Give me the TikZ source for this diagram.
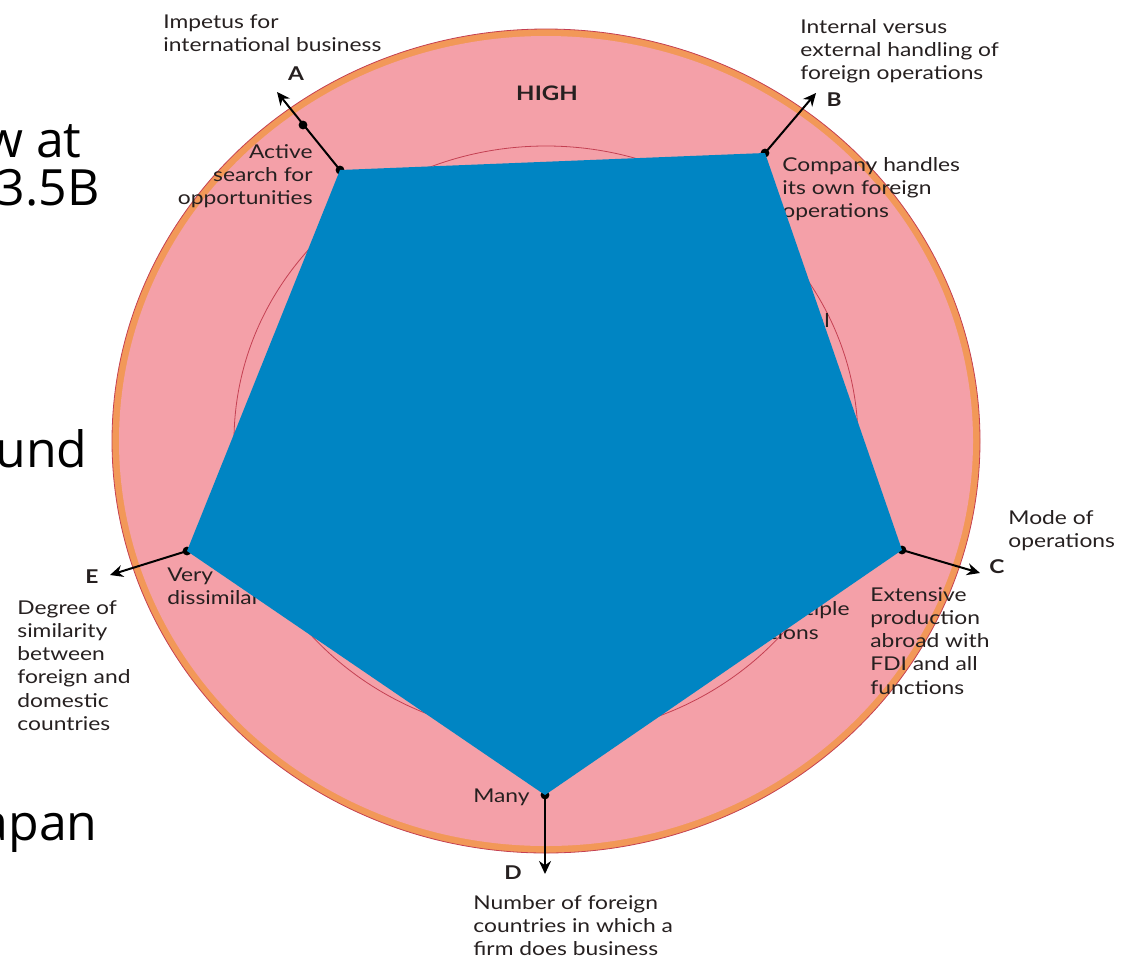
\documentclass[tikz,border=0pt]{standalone}
\usepackage{fontspec}
\setmainfont{Lato}[FakeStretch=1.2]
\newfontfamily\slidefont{Open Sans}
\usetikzlibrary{arrows.meta}

\definecolor{rimorange}{RGB}{242,152,88}
\definecolor{ringpink}{RGB}{244,160,168}
\definecolor{ringline}{RGB}{196,64,82}
\definecolor{polyblue}{RGB}{0,133,195}
\definecolor{labeltext}{RGB}{38,32,32}

\tikzset{
  lbl/.style={inner sep=0pt, align=left, text=labeltext, font=\fontsize{9.5}{11.6}\selectfont},
  rlbl/.style={lbl, align=right},
  axisname/.style={inner sep=0pt, text=labeltext, font=\bfseries\fontsize{9.5}{11}\selectfont},
  axis/.style={line width=1pt, -{Stealth[length=6.5pt,width=6pt]}},
  slide/.style={inner sep=0pt, anchor=base east, font=\slidefont\fontsize{25}{30}\selectfont}
}

\begin{document}
\begin{tikzpicture}[x=0.5pt,y=-0.5pt]
	\useasboundingbox (0,0) rectangle (1128,959);
	
	% text of the slide behind the figure
	\begin{scope}
	\clip (0,0) rectangle (1128,959);
	\node[slide] (s1) at (82,157) {w at};
	\node[slide] (s2) at (100,205) {3.5B};
	\node[slide] (s3) at (88,467) {und};
	\node[slide] (s4) at (98,840) {apan};
	\end{scope}
	
	% rings
	\coordinate (o) at (546,441);
	\fill[rimorange, draw=ringline, line width=0.4pt] (o) ellipse [x radius=217pt, y radius=206pt];
	\fill[ringpink] (o) ellipse [x radius=213.5pt, y radius=202.5pt];
	\draw[ringline, line width=0.4pt] (o) ellipse [x radius=156pt, y radius=147.5pt];
	\node[axisname, font=\bfseries\fontsize{10}{12}\selectfont] (high) at (547,93) {HIGH};
	
	% labels that the pentagon partly hides
	\node[lbl, anchor=north west] (lB) at (782,157) {Company handles\\its own foreign\\operations};
	\node[lbl, anchor=north west] (lE) at (167,567) {Very\\dissimilar};
	\node[lbl, anchor=base east] (m1) at (850,615) {multiple};
	\node[lbl, anchor=base east] (m2) at (819,639) {locations};
	\node[lbl, anchor=base east] (m3) at (830,327) {Internal};
	
	% pentagon corners, arrow ends
	\coordinate (vA) at (340,170);
	\coordinate (vB) at (765,153);
	\coordinate (vC) at (902,550);
	\coordinate (vD) at (545,795);
	\coordinate (vE) at (187,551);
	\coordinate (tA) at (277,92);
	\coordinate (tB) at (816,93);
	\coordinate (tC) at (980,573);
	\coordinate (tD) at (545,874);
	\coordinate (tE) at (110,575);
	\coordinate (dA) at (303,125);
	
	\foreach \from/\to in {vA/tA,vB/tB,vC/tC,vD/tD,vE/tE}
	\draw[axis] (\from) -- (\to);
	\foreach \v in {vA,vB,vC,vD,vE,dA}
	\fill (\v) circle[radius=2.2pt];
	
	\fill[polyblue] (vA) -- (vB) -- (vC) -- (vD) -- (vE) -- cycle;
	
	% axis letters and texts
	\node[axisname] (A) at (296,74) {A};
	\node[axisname] (B) at (834,100) {B};
	\node[axisname] (C) at (997,567) {C};
	\node[axisname] (D) at (513,873) {D};
	\node[axisname] (E) at (92,577) {E};
	
	\node[lbl, anchor=north west] (nA) at (163,14) {Impetus for\\international business};
	\node[lbl, anchor=north west] (nB) at (800,19) {Internal versus\\external handling of\\foreign operations};
	\node[lbl, anchor=north west] (nC) at (1008,510) {Mode of\\operations};
	\node[lbl, anchor=north west] (nD) at (473,895) {Number of foreign\\countries in which a\\firm does business};
	\node[lbl, anchor=north west] (nE) at (17,600) {Degree of\\similarity\\between\\foreign and\\domestic\\countries};
	
	\node[rlbl, anchor=north east] (lA) at (313,144) {Active\\search for\\opportunities};
	\node[lbl, anchor=north west] (lC) at (870,587) {Extensive\\production\\abroad with\\FDI and all\\functions};
	\node[lbl, anchor=base east] (lD) at (530,802) {Many};
\end{tikzpicture}
\end{document}
